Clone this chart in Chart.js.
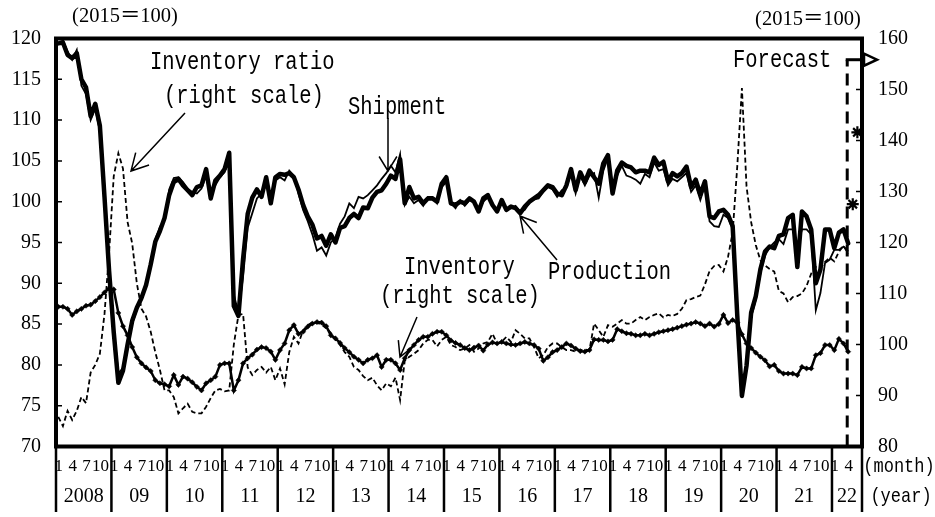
<!DOCTYPE html>
<html>
<head>
<meta charset="utf-8">
<script src="https://cdn.jsdelivr.net/npm/chart.js@4"></script>
<style>
  html, body { margin: 0; padding: 0; background: #fff; }
  canvas { display: block; }
</style>
</head>
<body>
<canvas id="chart" width="935" height="517"></canvas>
<script>
// monthly, 2015=100, Jan 2008 .. Apr 2022
const years = ["2008", "09", "10", "11", "12", "13", "14", "15", "16", "17", "18", "19", "20", "21", "22"];
const monthLabels = [1, 4, 7, 10];
const leftTicks = [70, 75, 80, 85, 90, 95, 100, 105, 110, 115, 120];
const rightTicks = [80, 90, 100, 110, 120, 130, 140, 150, 160];

const production = [
  119.4, 119.5, 118.0, 117.6, 118.2, 115.0, 114.0, 110.5, 112.0, 109.3, 100.6, 91.5,
  84.0, 77.8, 79.3, 82.5, 85.4, 87.0, 88.2, 89.8, 92.3, 95.1, 96.4, 98.0,
  100.8, 102.4, 102.8, 102.0, 101.4, 100.8, 101.8, 102.0, 104.0, 100.4, 102.6, 103.2,
  104.0, 106.0, 87.2, 86.0, 93.0, 98.5, 100.5, 101.5, 100.6, 103.0, 99.8, 103.0,
  103.4, 103.3, 103.5, 103.0, 101.5, 99.6, 98.2, 97.2, 95.5, 95.8, 94.6, 96.0,
  95.0, 96.8, 97.0, 98.0, 98.5, 98.0, 99.3, 99.2, 100.5, 101.2, 101.4, 102.2,
  103.2, 102.8, 105.2, 99.8, 101.8, 100.4, 100.6, 99.8, 100.4, 100.4, 100.0, 102.2,
  103.0, 99.8, 99.6, 100.0, 99.8, 100.4, 100.0, 98.8, 100.4, 100.8, 99.6, 98.8,
  100.2, 99.0, 99.4, 99.2, 98.6, 99.4, 100.0, 100.4, 100.8, 101.4, 102.0, 101.8,
  101.0, 100.8, 102.0, 104.0, 101.4, 103.6, 102.4, 103.8, 103.0, 102.2, 104.7, 105.7,
  101.0, 103.8, 104.8, 104.4, 104.2, 103.6, 103.8, 103.8, 103.6, 105.4, 104.5, 104.9,
  102.5, 103.5, 103.1, 103.5, 104.3, 101.8, 102.7, 100.9, 102.5, 98.2, 98.0, 98.8,
  99.0, 98.4, 97.0, 86.0, 76.2, 79.9, 86.4, 88.4, 91.7, 93.9, 94.5, 94.3,
  95.8, 96.0, 98.0, 98.4, 92.0, 98.8, 98.2, 96.6, 90.0, 91.7, 96.6, 96.6,
  94.3, 96.2, 96.6, 94.9
];

const shipment = [
  120.0, 119.8, 118.4, 117.4, 118.6, 114.2, 113.2, 110.0, 111.4, 108.6, 101.5, 92.0,
  84.5, 79.0, 79.6, 82.2, 85.0, 86.8, 88.0, 89.6, 92.0, 95.4, 96.9, 97.8,
  101.5, 102.9, 103.0, 102.4, 101.6, 101.2, 101.0, 101.6, 103.2, 101.2, 102.0, 103.0,
  103.6, 105.2, 88.6, 86.4, 90.8, 96.8, 98.6, 100.4, 101.0, 102.2, 100.6, 102.6,
  103.0, 102.6, 103.8, 103.2, 101.0, 99.0, 97.6, 96.0, 94.0, 94.4, 93.4, 95.0,
  95.6, 97.3, 98.2, 99.8, 99.2, 100.6, 100.4, 100.8, 101.4, 102.0, 102.8, 103.5,
  104.4, 103.6, 105.8, 99.6, 100.6, 99.8, 100.2, 99.5, 100.6, 100.6, 99.8, 101.8,
  102.4, 99.8, 99.2, 100.2, 99.5, 100.2, 100.0, 99.0, 100.0, 100.5, 99.8, 98.9,
  99.8, 99.2, 99.2, 99.5, 98.8, 99.0, 99.9, 100.3, 100.4, 101.2, 101.8, 101.5,
  100.6, 101.4, 101.7, 103.5, 101.0, 103.2, 102.0, 103.2, 103.5, 100.5, 103.8, 105.4,
  101.4, 103.2, 104.4, 103.2, 103.0, 102.7, 102.2, 103.4, 103.0, 104.8, 103.8, 104.0,
  102.0, 102.8, 102.5, 103.0, 103.5, 101.2, 102.0, 100.2, 102.0, 97.6, 97.0, 96.9,
  98.4, 98.0, 96.6, 86.6, 77.0, 79.4, 85.8, 88.0, 91.2, 93.4, 94.4, 95.0,
  95.4, 94.8, 96.6, 96.6, 94.5, 96.6, 96.6, 96.0, 86.7, 88.8, 92.5, 92.9,
  94.1, 94.1, 94.5, 93.9
];

const inventory = [
  107.4, 107.4, 107.0, 105.8, 106.5, 107.0, 107.6, 107.8, 108.5, 109.3, 110.2, 111.0,
  110.8, 106.2, 103.6, 101.8, 99.5, 97.5, 96.3, 95.5, 94.8, 93.0, 92.4, 92.2,
  91.8, 94.0, 92.1, 93.7, 93.3, 92.6, 91.7, 91.0, 92.4, 93.0, 93.7, 96.0,
  96.3, 96.3, 91.0, 93.0, 96.3, 97.3, 98.0, 99.0, 99.5, 99.3, 98.6, 97.0,
  98.9, 100.2, 102.8, 103.8, 102.1, 102.5, 103.5, 104.1, 104.4, 104.3, 103.6, 101.8,
  101.2, 100.3, 99.3, 98.5, 97.6, 97.0, 96.3, 97.0, 97.3, 97.9, 95.6, 97.0,
  97.0, 96.3, 95.0, 97.3, 98.9, 99.9, 100.9, 101.5, 101.5, 102.1, 102.5, 102.5,
  101.8, 100.8, 100.3, 99.9, 99.3, 98.9, 99.4, 99.8, 98.8, 100.0, 100.4, 100.2,
  100.5, 100.2, 100.0, 99.9, 100.2, 100.5, 100.2, 99.9, 99.2, 96.8, 97.5, 98.5,
  98.9, 99.5, 100.2, 99.8, 99.2, 98.7, 98.6, 98.9, 101.0, 100.9, 100.9, 100.6,
  100.9, 103.0, 102.6, 102.2, 102.1, 101.8, 101.8, 102.1, 101.8, 102.1, 102.4, 102.6,
  102.8, 103.0, 103.3, 103.6, 103.9, 104.1, 104.4, 104.1, 103.6, 104.1, 103.5, 104.0,
  105.8, 104.2, 104.8, 104.3, 102.0, 100.2, 99.3, 98.4, 97.6, 96.9, 95.7, 96.0,
  94.8, 94.3, 94.3, 94.3, 94.0, 95.6, 95.3, 95.3, 97.9, 98.3, 99.9, 99.9,
  98.9, 101.1, 100.2, 98.6
];

const inventoryRatio = [
  85.8, 84.0, 87.0, 85.2, 87.0, 89.7, 88.5, 94.5, 96.0, 98.2, 106.0, 118.0,
  133.0, 137.5, 134.5, 124.0, 119.8, 112.0, 107.0, 105.5, 102.5, 98.5, 95.0, 91.0,
  91.0, 89.7, 86.5, 87.5, 88.4, 86.8, 86.5, 86.5, 87.8, 89.5, 91.0, 91.3,
  90.8, 91.0, 100.0, 105.8, 106.0, 95.5, 94.0, 95.0, 95.6, 94.5, 95.6, 93.0,
  95.3, 92.2, 98.5, 101.5, 100.2, 102.8, 103.8, 104.3, 104.3, 103.9, 103.2, 102.3,
  101.0, 99.9, 98.5, 97.6, 95.6, 95.0, 93.8, 93.0, 93.5, 92.0, 91.0, 92.4,
  91.8, 93.5, 89.1, 96.8, 97.6, 98.2, 98.9, 100.2, 100.9, 100.9, 99.6, 100.9,
  101.5, 99.9, 99.5, 98.9, 99.2, 99.9, 98.6, 99.2, 100.2, 100.5, 102.1, 100.2,
  100.5, 101.5, 100.5, 102.8, 102.1, 101.2, 101.2, 99.5, 97.3, 97.9, 99.5, 100.2,
  100.2, 99.5, 98.9, 98.9, 98.6, 98.9, 99.0, 98.9, 104.1, 102.8, 101.5, 103.8,
  103.5, 104.1, 104.8, 104.1, 104.1, 104.8, 105.4, 104.8, 105.4, 105.8, 106.1, 105.3,
  105.8, 105.6, 106.0, 107.0, 108.7, 108.9, 109.3, 109.6, 111.8, 114.4, 115.4, 115.6,
  114.3, 117.2, 122.0, 135.0, 150.3, 131.0, 124.0, 119.5, 116.5, 115.5, 114.8, 114.3,
  110.5, 110.0, 108.3, 109.3, 109.5, 110.0, 111.5, 113.9, 115.2, 115.0, 116.2, 117.0,
  116.3, 118.2, 119.4, 117.8
];

// production forecast for May and Jun 2022
const forecast = [99.7, 108.5];

const monthsShown = 174.5;     // x axis length in months
const forecastAt = 171.3;      // where the forecast marker line stands
const forecastTop = 117.4;     // its top, left scale

const pts = arr => arr.map((v, i) => ({ x: i + 0.5, y: v }));

const serif = '"Liberation Serif", "Noto Sans CJK JP", serif';
const mono = '"Liberation Mono", "Noto Sans CJK JP", monospace';

function arrow(ctx, x1, y1, x2, y2, len, ang) {
  const t = Math.atan2(y2 - y1, x2 - x1);
  ctx.beginPath();
  ctx.moveTo(x1, y1);
  ctx.lineTo(x2, y2);
  ctx.moveTo(x2 - len * Math.cos(t - ang), y2 - len * Math.sin(t - ang));
  ctx.lineTo(x2, y2);
  ctx.lineTo(x2 - len * Math.cos(t + ang), y2 - len * Math.sin(t + ang));
  ctx.stroke();
}

// mincho-like tall text
function tall(ctx, s, x, y) {
  ctx.save();
  ctx.translate(x, y);
  ctx.scale(1, 1.22);
  ctx.fillText(s, 0, 0);
  ctx.restore();
}

const decor = {
  id: 'decor',
  afterDraw(chart) {
    const { ctx, chartArea: a } = chart;
    const { x, y, y2 } = chart.scales;
    ctx.save();
    ctx.fillStyle = '#000';
    ctx.strokeStyle = '#000';

    // forecast marker
    const fx = x.getPixelForValue(forecastAt);
    const fy = y.getPixelForValue(forecastTop);
    ctx.lineWidth = 3;
    ctx.setLineDash([12, 7]);
    ctx.beginPath();
    ctx.moveTo(fx, a.bottom);
    ctx.lineTo(fx, fy);
    ctx.stroke();
    ctx.setLineDash([]);
    ctx.beginPath();
    ctx.moveTo(fx - 1.5, fy);
    ctx.lineTo(a.right + 2, fy);
    ctx.stroke();

    // frame
    ctx.lineWidth = 4;
    ctx.strokeRect(a.left, a.top, a.right - a.left, a.bottom - a.top);

    ctx.lineWidth = 2.5;
    ctx.fillStyle = '#fff';
    ctx.beginPath();
    ctx.moveTo(a.right + 2, fy - 6);
    ctx.lineTo(a.right + 15, fy);
    ctx.lineTo(a.right + 2, fy + 6);
    ctx.closePath();
    ctx.fill();
    ctx.stroke();
    ctx.fillStyle = '#000';

    // inner ticks
    ctx.lineWidth = 1.5;
    ctx.beginPath();
    leftTicks.forEach(v => {
      const py = y.getPixelForValue(v);
      ctx.moveTo(a.left, py);
      ctx.lineTo(a.left + 6, py);
    });
    rightTicks.forEach(v => {
      const py = y2.getPixelForValue(v);
      ctx.moveTo(a.right, py);
      ctx.lineTo(a.right - 6, py);
    });
    ctx.stroke();

    // tick labels
    ctx.font = '20px ' + serif;
    ctx.textBaseline = 'middle';
    ctx.textAlign = 'right';
    leftTicks.forEach(v => ctx.fillText(String(v), 41, y.getPixelForValue(v)));
    ctx.textAlign = 'left';
    rightTicks.forEach(v => ctx.fillText(String(v), 878, y2.getPixelForValue(v)));

    ctx.textAlign = 'center';
    ctx.font = '20.5px ' + serif;
    ctx.fillText('(2015＝100)', 125, 17);
    ctx.fillText('(2015＝100)', 808, 20);

    // year separators under the axis
    ctx.lineWidth = 2.5;
    ctx.beginPath();
    for (let k = 0; k < years.length; k++) {
      const px = x.getPixelForValue(k * 12);
      ctx.moveTo(px, a.bottom);
      ctx.lineTo(px, 512);
    }
    ctx.moveTo(a.right, a.bottom);
    ctx.lineTo(a.right, 512);
    ctx.stroke();

    // month and year labels
    ctx.font = '17px ' + serif;
    years.forEach((yr, k) => {
      monthLabels.forEach(m => {
        const idx = k * 12 + m - 1;
        if (idx < production.length) {
          ctx.fillText(String(m), x.getPixelForValue(idx + 0.5) + 0.5, 467);
        }
      });
    });
    ctx.font = '20px ' + serif;
    years.forEach((yr, k) => {
      const end = Math.min((k + 1) * 12, monthsShown);
      ctx.fillText(yr, x.getPixelForValue((k * 12 + end) / 2), 497);
    });
    ctx.font = '17px ' + mono;
    tall(ctx, '(month)', 899, 467);
    tall(ctx, '(year)', 901, 497);

    // series labels
    ctx.font = '20.5px ' + mono;
    ctx.textAlign = 'left';
    tall(ctx, 'Inventory ratio', 150, 62);
    tall(ctx, '(right scale)', 164, 96);
    tall(ctx, 'Shipment', 348, 107);
    tall(ctx, 'Inventory', 404, 267);
    tall(ctx, '(right scale)', 380, 296);
    tall(ctx, 'Production', 548, 272);
    tall(ctx, 'Forecast', 733, 60);

    ctx.lineWidth = 1.5;
    arrow(ctx, 185, 113, 131, 171, 19, 0.5);
    arrow(ctx, 388, 118, 388, 171, 17, 0.55);
    arrow(ctx, 557, 260, 520, 216, 18, 0.5);
    arrow(ctx, 417, 317, 400, 357, 17, 0.5);

    ctx.restore();
  }
};

new Chart(document.getElementById('chart'), {
  type: 'line',
  data: {
    datasets: [
      {
        label: 'Production',
        data: pts(production),
        yAxisID: 'y',
        borderColor: '#000',
        borderWidth: 4.5,
        borderJoinStyle: 'round',
        borderCapStyle: 'round',
        pointRadius: 0
      },
      {
        label: 'Shipment',
        data: pts(shipment),
        yAxisID: 'y',
        borderColor: '#000',
        borderWidth: 1.8,
        pointRadius: 0
      },
      {
        label: 'Inventory',
        data: pts(inventory),
        yAxisID: 'y2',
        borderColor: '#000',
        borderWidth: 2.5,
        pointStyle: 'rectRot',
        pointRadius: 2.6,
        pointBorderWidth: 0.5,
        pointBackgroundColor: '#000',
        pointBorderColor: '#000'
      },
      {
        label: 'Inventory ratio',
        data: pts(inventoryRatio),
        yAxisID: 'y2',
        borderColor: '#000',
        borderWidth: 1.8,
        borderDash: [5, 3],
        pointRadius: 0
      },
      {
        label: 'Forecast',
        data: forecast.map((v, k) => ({ x: production.length + k + 0.5, y: v })),
        yAxisID: 'y',
        showLine: false,
        pointStyle: 'star',
        pointRadius: 6,
        pointBorderWidth: 2.2,
        pointBorderColor: '#000',
        clip: false
      }
    ]
  },
  options: {
    responsive: false,
    animation: false,
    layout: { padding: { left: 56, right: 73, top: 38.5, bottom: 70.5 } },
    plugins: { legend: { display: false }, tooltip: { enabled: false } },
    scales: {
      x: { type: 'linear', min: 0, max: monthsShown, display: false },
      y: { min: 70, max: 120, display: false },
      y2: { min: 80, max: 160, display: false, position: 'right' }
    }
  },
  plugins: [decor]
});
</script>
</body>
</html>
